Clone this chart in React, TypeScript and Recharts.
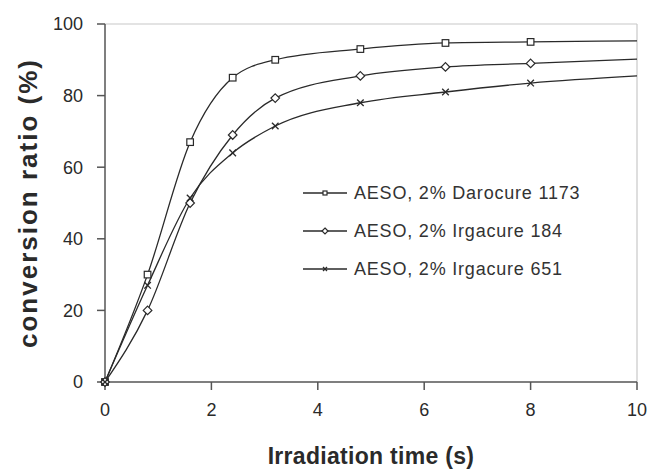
import React from 'react';
import { LineChart, Line, XAxis, YAxis, ReferenceLine, Label } from 'recharts';

// irradiation time (s) and conversion ratio (%)
const times = [0, 0.8, 1.6, 2.4, 3.2, 4.8, 6.4, 8.0, 10];
const darocure1173 = [0, 30, 67, 85, 90, 93, 94.7, 95, 95.3];
const irgacure184 = [0, 20, 50, 69, 79.3, 85.5, 88, 89, 90.2];
const irgacure651 = [0, 27, 51.4, 64, 71.5, 78, 81, 83.5, 85.5];
const xTicks = [0, 2, 4, 6, 8, 10];
const yTicks = [0, 20, 40, 60, 80, 100];

const series = [
  { key: 'd1173', name: 'AESO, 2% Darocure 1173', shape: 'square', values: darocure1173 },
  { key: 'i184', name: 'AESO, 2% Irgacure 184', shape: 'diamond', values: irgacure184 },
  { key: 'i651', name: 'AESO, 2% Irgacure 651', shape: 'cross', values: irgacure651 },
];

const data = times.map((t, i) => {
  const row: Record<string, number> = { t };
  series.forEach((s) => {
    row[s.key] = s.values[i];
  });
  return row;
});

const INK = '#2a2a2a';
const FONT = '"Liberation Sans", Arial, sans-serif';

const Marker = ({ shape, cx, cy, r }: { shape: string; cx: number; cy: number; r: number }) => {
  if (shape === 'square') {
    return <rect x={cx - r} y={cy - r} width={r * 2} height={r * 2} fill="#fff" stroke={INK} strokeWidth={1.2} />;
  }
  if (shape === 'diamond') {
    return (
      <polygon
        points={`${cx},${cy - r - 1} ${cx + r + 1},${cy} ${cx},${cy + r + 1} ${cx - r - 1},${cy}`}
        fill="#fff"
        stroke={INK}
        strokeWidth={1.2}
      />
    );
  }
  return (
    <g stroke={INK} strokeWidth={1.3}>
      <line x1={cx - r} y1={cy - r} x2={cx + r} y2={cy + r} />
      <line x1={cx - r} y1={cy + r} x2={cx + r} y2={cy - r} />
    </g>
  );
};

// Excel-style: no marker on the last (x = 10) point
const makeDot = (shape: string) => (props: any) => {
  const { cx, cy, payload, index } = props;
  if (payload.t === 10 || cx == null) return <g key={`n-${index}`} />;
  return (
    <g key={`${shape}-${index}`}>
      <Marker shape={shape} cx={cx} cy={cy} r={3.3} />
    </g>
  );
};

const LegendBox = () => (
  <div
    style={{
      position: 'absolute',
      left: 300,
      top: 174,
      fontFamily: FONT,
      fontSize: 18,
      color: '#333',
      letterSpacing: 0.8,
    }}
  >
    {series.map((s) => (
      <div key={s.key} style={{ display: 'flex', alignItems: 'center', height: 38, whiteSpace: 'nowrap' }}>
        <svg width={50} height={12} style={{ marginRight: 4 }}>
          <line x1={3} y1={6} x2={47} y2={6} stroke={INK} strokeWidth={1.5} />
          <Marker shape={s.shape} cx={25} cy={6} r={2} />
        </svg>
        <span>{s.name}</span>
      </div>
    ))}
  </div>
);

export default function App() {
  return (
    <div style={{ position: 'absolute', left: 0, top: 0, width: 649, height: 470, background: '#fff' }}>
      <LineChart width={649} height={470} data={data} margin={{ top: 24, right: 12, bottom: 0, left: 0 }}>
        <ReferenceLine y={100} stroke="#c8c8c8" strokeWidth={1.2} />
        <ReferenceLine x={10} stroke="#c8c8c8" strokeWidth={1.2} />
        <XAxis
          dataKey="t"
          type="number"
          domain={[0, 10]}
          ticks={xTicks}
          height={88}
          tickSize={8}
          tickMargin={13}
          stroke="#555"
          strokeWidth={1.5}
          tick={{ fill: INK, fontSize: 18, fontFamily: FONT }}
        >
          <Label
            value="Irradiation time  (s)"
            position="insideBottom"
            offset={6}
            style={{ fill: INK, fontSize: 23, fontWeight: 700, fontFamily: FONT, letterSpacing: 0.3 }}
          />
        </XAxis>
        <YAxis
          type="number"
          domain={[0, 100]}
          ticks={yTicks}
          width={105}
          tickSize={8}
          tickMargin={14}
          stroke="#555"
          strokeWidth={1.5}
          tick={{ fill: INK, fontSize: 18, fontFamily: FONT }}
        >
          <Label
            value="conversion ratio (%)"
            angle={-90}
            position="insideLeft"
            offset={28}
            style={{ textAnchor: 'middle', fill: INK, fontSize: 26, fontWeight: 700, fontFamily: FONT, letterSpacing: 2 }}
          />
        </YAxis>
        {series.map((s) => (
          <Line
            key={s.key}
            dataKey={s.key}
            name={s.name}
            type="monotone"
            stroke={INK}
            strokeWidth={1.3}
            dot={makeDot(s.shape)}
            activeDot={false}
            isAnimationActive={false}
          />
        ))}
      </LineChart>
      <LegendBox />
    </div>
  );
}
